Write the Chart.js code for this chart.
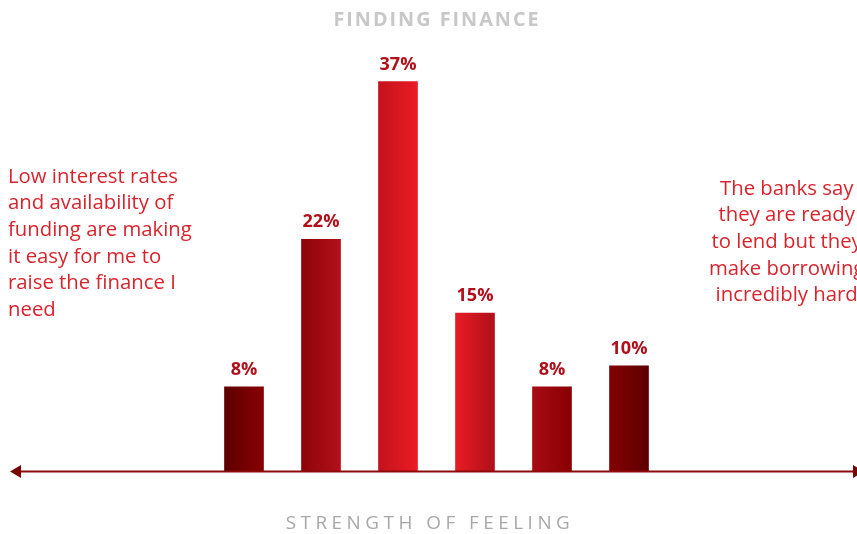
<!DOCTYPE html>
<html>
<head>
<meta charset="utf-8">
<script src="https://cdn.jsdelivr.net/npm/chart.js@4.4.0/dist/chart.umd.min.js"></script>
<style>
  html, body { margin: 0; padding: 0; background: #fff; overflow: hidden; }
  #wrap { position: relative; width: 880px; height: 534px; }
</style>
</head>
<body>
<div id="wrap"><canvas id="chart" width="880" height="534"></canvas></div>
<script>
// ===== DATA =====
const slots = ['', '', '', 'a', 'b', 'c', 'd', 'e', 'f', '', '', ''];
const shares = [null, null, null, 8, 22, 37, 15, 8, 10, null, null, null];
const title = 'FINDING FINANCE';
const axisTitle = 'STRENGTH OF FEELING';
const leftNote = ['Low interest rates', 'and availability of', 'funding are making', 'it easy for me to', 'raise the finance I', 'need'];
const rightNote = ['The banks say', 'they are ready', 'to lend but they', 'make borrowing', 'incredibly hard'];

const FONT = '"Open Sans", "Noto Sans", sans-serif';
const BAR_W = 39;

// pick a font size so that a text comes out at the wanted width
function fitFont(c, text, weight, target, spacing) {
    let size = 20;
    c.letterSpacing = spacing + 'px';
    c.font = weight + ' ' + size + 'px ' + FONT;
    const w = c.measureText(text).width;
    size = size * target / w;
    c.font = weight + ' ' + size.toFixed(2) + 'px ' + FONT;
    return size;
}

// one gradient running across all the bars: dark -> bright -> dark
function barGradient(ctx) {
    const chart = ctx.chart;
    if (!chart.chartArea) return '#a00';
    const x = chart.scales.x;
    const x0 = x.getPixelForValue(3) - BAR_W / 2;
    const x1 = x.getPixelForValue(8) + BAR_W / 2;
    const g = chart.ctx.createLinearGradient(x0, 0, x1, 0);
    g.addColorStop(0, '#5e0000');
    g.addColorStop(0.09, '#870002');
    g.addColorStop(0.18, '#8c0309');
    g.addColorStop(0.27, '#b2101a');
    g.addColorStop(0.36, '#c2121c');
    g.addColorStop(0.46, '#ec1c24');
    g.addColorStop(0.54, '#ec1c24');
    g.addColorStop(0.63, '#b3101a');
    g.addColorStop(0.72, '#aa0c14');
    g.addColorStop(0.82, '#870003');
    g.addColorStop(0.91, '#820002');
    g.addColorStop(1, '#5e0000');
    return g;
}

// ===== DECORATIONS =====
const decor = {
    id: 'decor',
    afterDraw(chart) {
        const c = chart.ctx;
        const area = chart.chartArea;
        c.save();

        // bottom axis with arrows
        const y = area.bottom + 0.5;
        c.strokeStyle = '#8b0a0a';
        c.fillStyle = '#7a0505';
        c.lineWidth = 2;
        c.beginPath();
        c.moveTo(14, y);
        c.lineTo(858, y);
        c.stroke();
        c.beginPath();
        c.moveTo(10, y); c.lineTo(21, y - 6.5); c.lineTo(21, y + 6.5); c.closePath();
        c.fill();
        c.beginPath();
        c.moveTo(864, y); c.lineTo(853, y - 6.5); c.lineTo(853, y + 6.5); c.closePath();
        c.fill();

        // value labels
        const meta = chart.getDatasetMeta(0);
        c.fillStyle = '#b0101b';
        fitFont(c, '37%', 'bold', 37, 0);
        c.textAlign = 'center';
        c.textBaseline = 'alphabetic';
        meta.data.forEach((bar, i) => {
            if (shares[i] == null) return;
            c.fillText(shares[i] + '%', bar.x, bar.y - 12);
        });

        // title
        c.fillStyle = '#c8c8c8';
        fitFont(c, title, 'bold', 207, 2);
        c.textBaseline = 'middle';
        c.fillText(title, 437, 20);

        // axis title
        c.fillStyle = '#a8a8a8';
        fitFont(c, axisTitle, 'normal', 284, 4.5);
        c.fillText(axisTitle, 430, 524);

        // side notes
        c.fillStyle = '#d9242e';
        fitFont(c, 'funding are making', 'normal', 184, 0);
        c.textAlign = 'left';
        leftNote.forEach((t, i) => c.fillText(t, 8, 177 + i * 26.6));
        const cx = 720 + c.measureText(rightNote[0]).width / 2;
        c.textAlign = 'center';
        rightNote.forEach((t, i) => c.fillText(t, cx, 189 + i * 26.6));

        c.restore();
    }
};

// ===== CHART =====
new Chart(document.getElementById('chart'), {
    type: 'bar',
    data: {
        labels: slots,
        datasets: [{
            data: shares,
            backgroundColor: barGradient,
            barThickness: BAR_W,
            borderWidth: 0
        }]
    },
    options: {
        responsive: false,
        animation: false,
        layout: { padding: { top: 50, bottom: 63, left: 13, right: 20 } },
        plugins: { legend: { display: false }, tooltip: { enabled: false } },
        scales: {
            x: { display: false, offset: false, grid: { display: false } },
            y: { display: false, min: 0, max: 40 }
        }
    },
    plugins: [decor]
});
</script>
</body>
</html>
